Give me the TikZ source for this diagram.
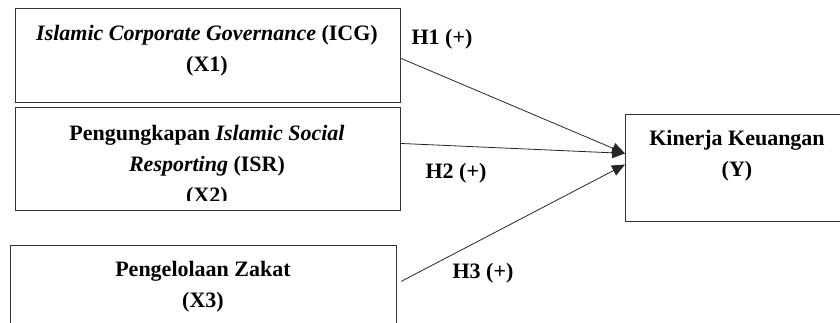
\documentclass[tikz,border=0pt]{standalone}
\usepackage{fontspec}
\setmainfont{Liberation Serif}
\usetikzlibrary{arrows.meta,calc}

\tikzset{
  box/.style={draw=black!80, line width=1.2pt, rectangle, anchor=north west, inner sep=0pt},
  txt/.style={font=\fontsize{22}{31}\selectfont\bfseries, align=center, inner sep=0pt},
  hyp/.style={font=\fontsize{22}{26}\selectfont\bfseries, inner sep=0pt},
  link/.style={black!85, line width=0.8pt},
}

\begin{document}
\begin{tikzpicture}[x=1pt, y=-1pt, ->, >={Triangle[length=13pt,width=11pt]}, shorten >=0pt]
    \useasboundingbox (0,0) rectangle (840,322);

    \node[box, minimum width=385pt, minimum height=94pt] at (15,8) (x1) {};
    \node[box, minimum width=385pt, minimum height=103pt] at (15,107) (x2) {};
    \node[box, minimum width=386pt, minimum height=115pt] at (10,245) (x3) {};
    \node[box, minimum width=224pt, minimum height=107pt] at (625,114) (y) {};

    \node[txt] at (207,50.5) (x1 text) {\textit{Islamic Corporate Governance} (ICG)\\(X1)};
    \begin{scope}
      \clip (16,108) rectangle (399,200);
      \node[txt] at (207,166) (x2 text) {Pengungkapan \textit{Islamic Social}\\\textit{Resporting} (ISR)\\(X2)};
    \end{scope}
    \node[txt] at (203,287) (x3 text) {Pengelolaan Zakat\\(X3)};
    \node[txt] at (737,156) (y text) {Kinerja Keuangan\\(Y)};

    \node[hyp] at (442,39) (h1) {H1 (+)};
    \node[hyp] at (456,173) (h2) {H2 (+)};
    \node[hyp] at (483,273) (h3) {H3 (+)};

    \draw[link] ($(x1.north east)!0.53!(x1.south east)$) -- ($(y.north west)!0.364!(y.south west)$);
    \draw[link] ($(x2.north east)!0.35!(x2.south east)$) -- ($(y.north west)!0.364!(y.south west)$);
    \draw[link] ($(x3.north east)!0.313!(x3.south east)+(4,0)$) -- ($(y.north west)!0.467!(y.south west)$);

  \end{tikzpicture}
\end{document}
